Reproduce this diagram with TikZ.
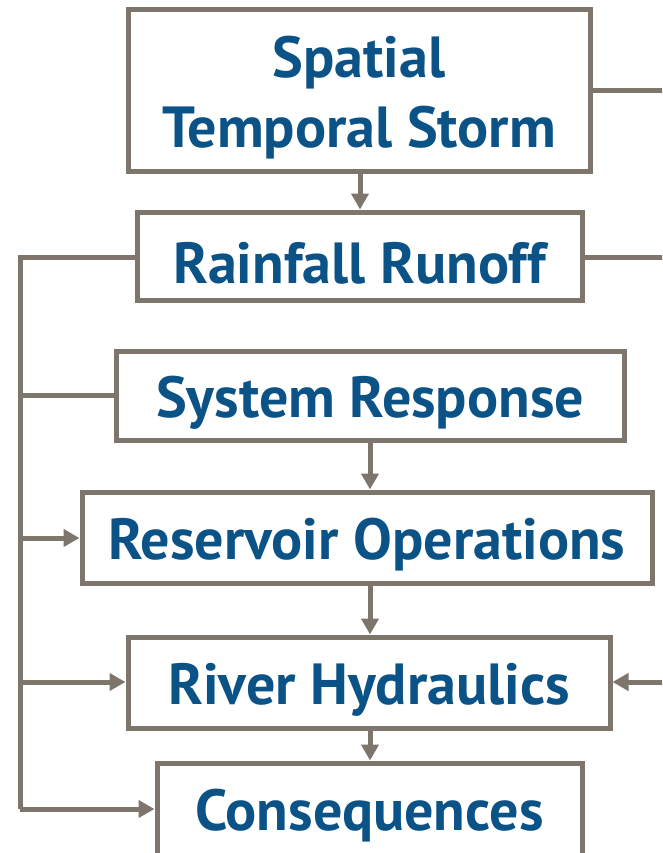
\documentclass[tikz,border=0pt]{standalone}
\usepackage{fontspec}
\setmainfont{PT Sans}
\usetikzlibrary{arrows.meta}
\definecolor{linegrey}{HTML}{7E756C}
\definecolor{textblue}{HTML}{0B5287}
\newcommand{\lowtxt}[1]{\raisebox{-7pt}[\height][\depth]{#1}}
\begin{document}
\begin{tikzpicture}[x=1pt,y=-1pt,
  box/.style={draw=linegrey, line width=5pt, fill=white, inner sep=0pt, text=textblue,
    font=\fontsize{58}{70}\selectfont\bfseries, align=center},
  conn/.style={draw=linegrey, line width=5pt},
  arr/.style={conn, -{Triangle[length=16pt,width=17pt]}}]
\clip (0,0) rectangle (662,853);
\useasboundingbox (0,0) rectangle (662,853);
\fill[white] (0,0) rectangle (662,853);
\node[box, minimum width=462pt, minimum height=162pt] (storm) at (359,91) {\lowtxt{Spatial}\\\lowtxt{Temporal Storm}};
\node[box, minimum width=445pt, minimum height=88pt] (rain) at (359.5,256) {\lowtxt{Rainfall Runoff}};
\node[box, minimum width=508pt, minimum height=89pt] (sys) at (370,395.5) {\lowtxt{System Response}};
\node[box, minimum width=570pt, minimum height=91pt] (res) at (367,537.5) {\lowtxt{Reservoir Operations}};
\node[box, minimum width=482pt, minimum height=91pt] (riv) at (369,682.5) {\lowtxt{River Hydraulics}};
\node[box, minimum width=425pt, minimum height=92pt] (con) at (369.5,809) {\lowtxt{Consequences}};
\coordinate (r1) at (664,91);
\coordinate (r2) at (664,257);
\coordinate (r5) at (664,682);
\coordinate (ltop) at (20,257);
\coordinate (lbot) at (20,809);
% top and right connectors
\draw[arr] (storm.south -| 360,0) -- (rain.north -| 360,0);
\draw[conn] (storm.east |- r1) -- (r1);
\draw[conn] (rain.east |- r2) -- (r2);
\draw[arr] (r5) -- (riv.east |- r5);
% left bus
\draw[conn, line join=miter] (rain.west |- ltop) -- (ltop) -- (lbot);
\draw[conn] (20,395.5) -- (sys.west);
\draw[arr] (20,538) -- (res.west |- 0,538);
\draw[arr] (20,682) -- (riv.west |- 0,682);
\draw[arr] (lbot) -- (con.west |- lbot);
% down arrows
\draw[arr] (sys.south -| 370,0) -- (res.north -| 370,0);
\draw[arr] (res.south -| 370,0) -- (riv.north -| 370,0);
\draw[arr] (riv.south -| 370,0) -- (con.north -| 370,0);
\end{tikzpicture}
\end{document}
